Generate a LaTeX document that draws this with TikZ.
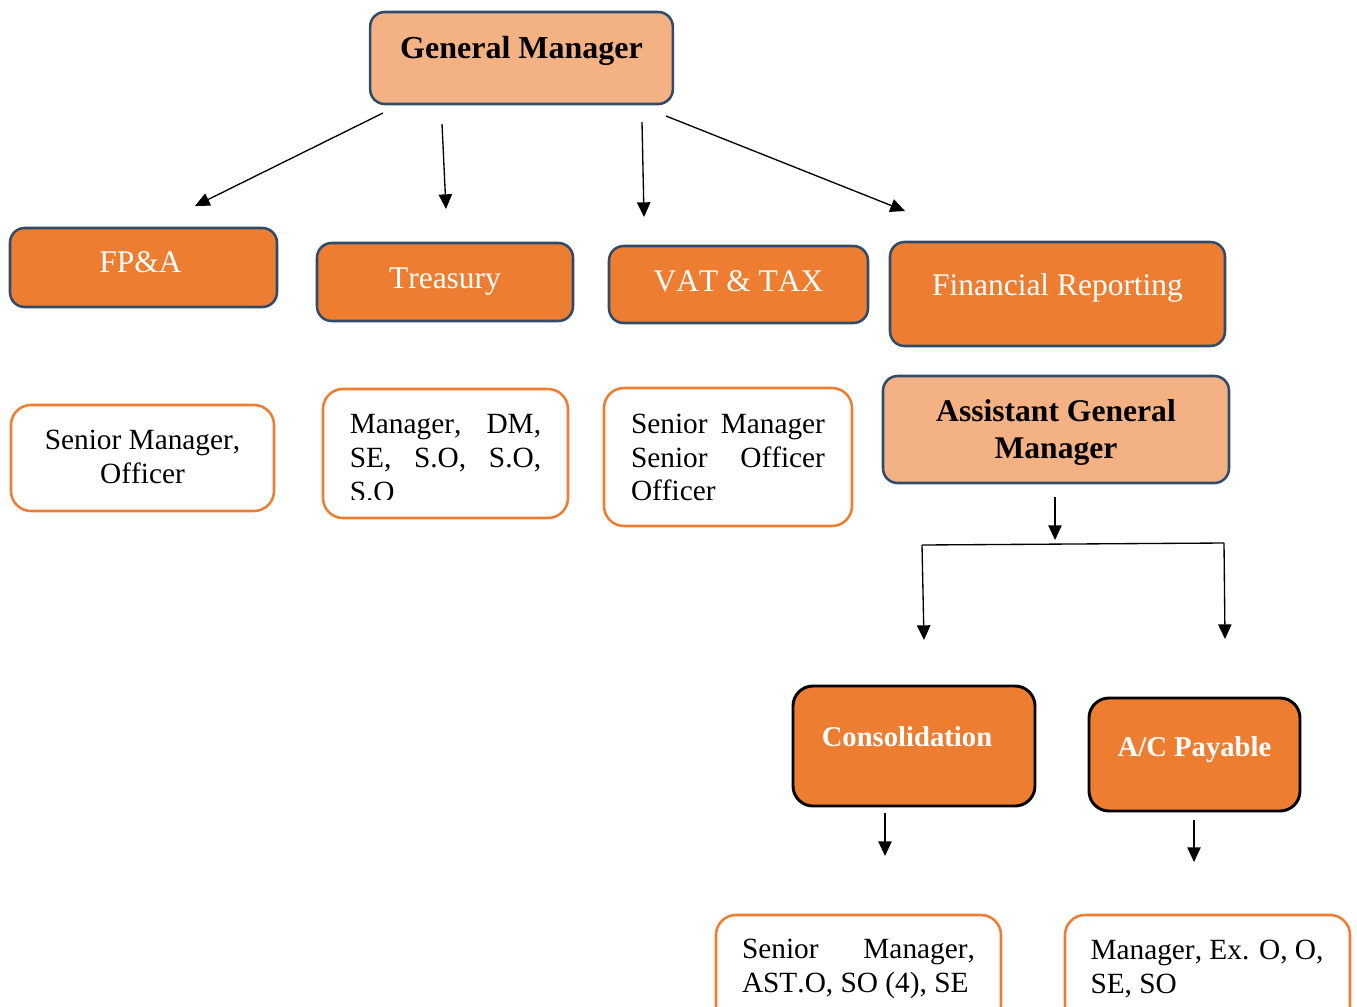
\documentclass[tikz,border=0pt]{standalone}
\usepackage{fontspec}
\setmainfont{Liberation Serif}[Kerning=Off]
\usetikzlibrary{arrows.meta}
\definecolor{lightor}{HTML}{F4B183}
\definecolor{orangeb}{HTML}{ED7D31}
\definecolor{navyb}{HTML}{2F4B69}
\begin{document}
\begin{tikzpicture}[x=0.75pt,y=-0.75pt,
  headbox/.style={draw=navyb, line width=1.9pt, fill=lightor, rounded corners=11pt, inner sep=0pt, align=center, font=\fontsize{24}{27.75}\selectfont\bfseries},
  deptbox/.style={draw=navyb, line width=1.9pt, fill=orangeb, rounded corners=11pt, inner sep=0pt, text=white, font=\fontsize{23.6}{28}\selectfont},
  unitbox/.style={draw=black, line width=2.2pt, fill=orangeb, rounded corners=15pt, inner sep=0pt, text=white, font=\fontsize{21.5}{26}\selectfont\bfseries},
  listbox/.style={draw=orangeb, line width=1.9pt, fill=white, rounded corners=15pt, inner sep=0pt},
  listtxt/.style={inner sep=0pt, font=\fontsize{22}{25.2}\selectfont},
  headtxt/.style={inner sep=0pt, align=center, font=\fontsize{23.7}{27.75}\selectfont\bfseries},
  arr/.style={line width=1pt, -{Triangle[length=11pt,width=10pt]}}
]
\useasboundingbox (0,0) rectangle (1357,1007);

% top
\node[headbox, minimum width=227pt, minimum height=69pt] (gm) at (521.5,58) {\raisebox{15.75pt}{General Manager}};

% departments
\node[deptbox, minimum width=200.25pt, minimum height=59.25pt] (fpa) at (143.5,267.5) {\hspace*{-4.5pt}\raisebox{8.5pt}{FP\&A}};
\node[deptbox, minimum width=192pt, minimum height=58.5pt] (tre) at (445,282) {\raisebox{3pt}{Treasury}};
\node[deptbox, minimum width=194.25pt, minimum height=57.75pt] (vat) at (738.5,284.5) {\raisebox{5.6pt}{VAT \& TAX}};
\node[deptbox, minimum width=251.25pt, minimum height=78pt] (fr) at (1057.5,294) {\raisebox{14.25pt}{Financial Reporting}};

\node[headbox, minimum width=259.5pt, minimum height=80.25pt] (agm) at (1056,429.5) {};
\node[headtxt] (agmt) at (1056,432.5) {Assistant General\\Manager};

% list boxes under departments
\node[listbox, minimum width=197.25pt, minimum height=79.5pt] (l1) at (142.5,458) {};
\node[listtxt, align=center] (l1t) at (142.5,457) {Senior Manager,\\Officer};

\node[listbox, minimum width=183.75pt, minimum height=96.75pt] (l2) at (445.5,453.5) {};
\begin{scope}
  \clip (330,395) rectangle (560,499.5);
  \node[listtxt, text width=143.5pt, align=justify] (l2t) at (445.5,458) {Manager,\hfill DM,\\SE,\hfill S.O,\hfill S.O,\\S.O};
\end{scope}

\node[listbox, minimum width=186pt, minimum height=103.5pt] (l3) at (728,457) {};
\node[listtxt, text width=145.5pt, align=justify] (l3t) at (728,457.5) {Senior\hfill Manager\\Senior\hfill Officer\\Officer};

% units
\node[unitbox, minimum width=181.5pt, minimum height=90pt] (con) at (914,746) {\hspace*{-10.5pt}\raisebox{14.25pt}{Consolidation}};
\node[unitbox, minimum width=158.25pt, minimum height=84.75pt] (acp) at (1194.5,754.5) {\raisebox{12.4pt}{A/C Payable}};

\node[listbox, minimum width=213.75pt, minimum height=82.5pt] (l4) at (858.5,970) {};
\node[listtxt, text width=174.75pt, align=justify] (l4t) at (858.5,969) {Senior\hfill Manager,\\AST.O, SO (4), SE};

\node[listbox, minimum width=213.75pt, minimum height=82.5pt] (l5) at (1207.5,970) {};
\node[listtxt, text width=177pt, align=justify] (l5t) at (1208.5,969) {Manager, Ex. O, O,\\SE, SO};

% free arrow end points
\coordinate (a1s) at (383,113);  \coordinate (a1e) at (195,206);
\coordinate (a2s) at (442,124);  \coordinate (a2e) at (446,209);
\coordinate (a3s) at (642,122);  \coordinate (a3e) at (644,217);
\coordinate (a4s) at (666,116);  \coordinate (a4e) at (905,211);
\coordinate (a5s) at (1055,497); \coordinate (a5e) at (1055,540);
\coordinate (brl) at (922,545);  \coordinate (brr) at (1224,543);
\coordinate (brle) at (924,640); \coordinate (brre) at (1225,639);
\coordinate (a7s) at (885,813);  \coordinate (a7e) at (885,856);
\coordinate (a8s) at (1194,820); \coordinate (a8e) at (1194,862);

\draw[arr] (a1s) -- (a1e);
\draw[arr] (a2s) -- (a2e);
\draw[arr] (a3s) -- (a3e);
\draw[arr] (a4s) -- (a4e);
\draw[arr] (a5s) -- (a5e);
\draw[line width=1pt] (brl) -- (brr);
\draw[arr] (brl) -- (brle);
\draw[arr] (brr) -- (brre);
\draw[arr] (a7s) -- (a7e);
\draw[arr] (a8s) -- (a8e);
\end{tikzpicture}
\end{document}
